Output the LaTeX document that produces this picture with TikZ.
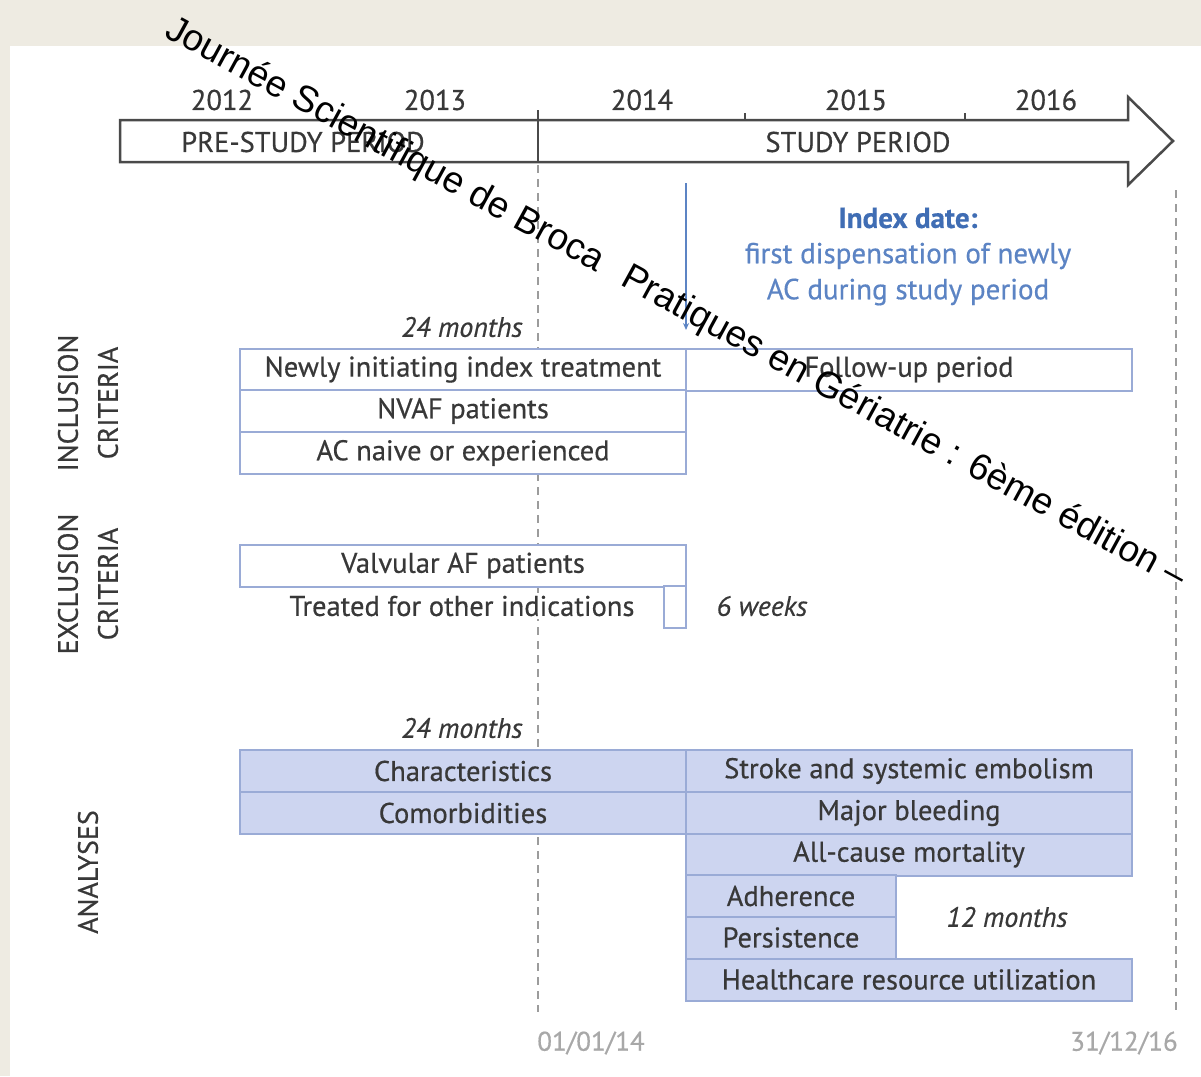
\documentclass[tikz,border=0pt]{standalone}
\usepackage{fontspec}
\setmainfont{PT Sans}[FakeBold=0.5]
\newfontfamily\wmfont{Liberation Sans}
\usetikzlibrary{arrows.meta}
\definecolor{bggray}{HTML}{EEEBE2}
\definecolor{boxblue}{HTML}{9AABD6}
\definecolor{anafill}{HTML}{CDD5F0}
\definecolor{txt}{HTML}{383838}
\definecolor{idxblue}{HTML}{3F6DB4}
\definecolor{idxlight}{HTML}{5C84C4}
\definecolor{dashgray}{HTML}{9C9C9C}
\definecolor{dategray}{HTML}{A8A8A8}
\definecolor{axisgray}{HTML}{4A4A4A}
\begin{document}
\begin{tikzpicture}[x=1pt,y=-1pt,
  cell/.style={draw=boxblue, line width=2pt, fill=white, minimum height=42pt, inner sep=0pt, text=txt, font=\fontsize{28.5}{32}\selectfont},
  acell/.style={cell, fill=anafill},
  lbl/.style={text=txt, font=\fontsize{28.5}{32}\selectfont, inner sep=0pt},
  ital/.style={text=txt, font=\fontsize{28}{32}\selectfont\itshape, inner sep=0pt},
  side/.style={text=txt, font=\fontsize{28}{40}\selectfont, rotate=90, align=center, inner sep=0pt},
  guide/.style={draw=dashgray, line width=1.5pt, dash pattern=on 8pt off 6pt},
  date/.style={text=dategray, font=\fontsize{27}{30}\selectfont, inner sep=0pt}
]
\useasboundingbox (0,0) rectangle (1201,1076);
\fill[bggray] (0,0) rectangle (1201,1076);
\fill[white] (10,46) rectangle (1201,1076);

% guide lines
\coordinate (g1top) at (538,165);
\coordinate (g1bot) at (538,1012);
\coordinate (g2top) at (1176,190);
\coordinate (g2bot) at (1176,1012);
\draw[guide] (g1top) -- (g1bot);
\draw[guide] (g2top) -- (g2bot);

% timeline arrow
\draw[axisgray, line width=2.5pt, line join=miter, fill=white]
  (120,120) -- (1128,120) -- (1128,97) -- (1173,141) -- (1128,185) -- (1128,162) -- (120,162) -- cycle;
\draw[axisgray, line width=2.5pt] (538,110) -- (538,162);
\draw[axisgray, line width=2pt] (745,113) -- (745,120);
\draw[axisgray, line width=2pt] (965,113) -- (965,120);

\node[lbl] (y12) at (222,100) {2012};
\node[lbl] (y13) at (435,100) {2013};
\node[lbl] (y14) at (642,100) {2014};
\node[lbl] (y15) at (856,100) {2015};
\node[lbl] (y16) at (1046,100) {2016};
\node[lbl] (pre) at (303,142) {PRE-STUDY PERIOD};
\node[lbl] (study) at (858,142) {STUDY PERIOD};

% index date
\node[text=idxblue, font=\fontsize{29}{32}\selectfont\bfseries, inner sep=0pt] (idx1) at (908,218) {Index date:};
\node[text=idxlight, font=\fontsize{29}{32}\selectfont, inner sep=0pt] (idx2) at (908,256) {first dispensation of newly};
\node[text=idxlight, font=\fontsize{29}{32}\selectfont, inner sep=0pt] (idx3) at (908,292) {AC during study period};

% side labels
\node[side] (sinc) at (88,403) {INCLUSION\\CRITERIA};
\node[side] (sexc) at (88,584) {EXCLUSION\\CRITERIA};
\node[side] (sana) at (88,872) {ANALYSES};

% inclusion
\node[ital] (m24a) at (462,327) {24 months};
\node[cell, minimum width=446pt] (inc1) at (463,369.5) {Newly initiating index treatment};
\node[cell, minimum width=446pt] (fu) at (909,369.5) {Follow-up period};
\node[cell, minimum width=446pt] (inc2) at (463,411) {NVAF patients};
\node[cell, minimum width=446pt] (inc3) at (463,453) {AC naive or experienced};

% index arrow
\coordinate (idxtop) at (686,183);
\coordinate (idxbot) at (686,330);
\draw[idxlight, line width=1.3pt, -{Stealth[length=7pt,width=6pt]}] (idxtop) -- (idxbot);

% exclusion
\node[cell, minimum width=446pt] (exc1) at (463,565.5) {Valvular AF patients};
\node[lbl, fill=white, inner sep=3pt] (exc2) at (462,606) {Treated for other indications};
\node[cell, minimum width=22pt, minimum height=42pt] (wk) at (675,607) {};
\node[ital] (w6) at (762,606) {6 weeks};

% analyses
\node[ital] (m24b) at (462,728) {24 months};
\node[acell, minimum width=446pt] (a1) at (463,771) {Characteristics};
\node[acell, minimum width=446pt] (a2) at (463,813) {Comorbidities};
\node[acell, minimum width=446pt] (b1) at (909,771) {Stroke and systemic embolism};
\node[acell, minimum width=446pt] (b2) at (909,813) {Major bleeding};
\node[acell, minimum width=446pt] (b3) at (909,854.5) {All-cause mortality};
\node[acell, minimum width=210pt] (c1) at (791,896) {Adherence};
\node[acell, minimum width=210pt] (c2) at (791,937.5) {Persistence};
\node[ital] (m12) at (1007,917) {12 months};
\node[acell, minimum width=446pt] (b4) at (909,979.5) {Healthcare resource utilization};

% dates
\node[date] (d1) at (591,1043) {01/01/14};
\node[date] (d2) at (1124,1043) {31/12/16};

% watermark
\node[anchor=base west, rotate=-28.6, inner sep=0pt, font=\wmfont\fontsize{37}{44}\selectfont] (wm) at (163,36)
  {Journée Scientifique de Broca\hspace{26pt}Pratiques en Gériatrie : 6ème édition –};
\end{tikzpicture}
\end{document}
